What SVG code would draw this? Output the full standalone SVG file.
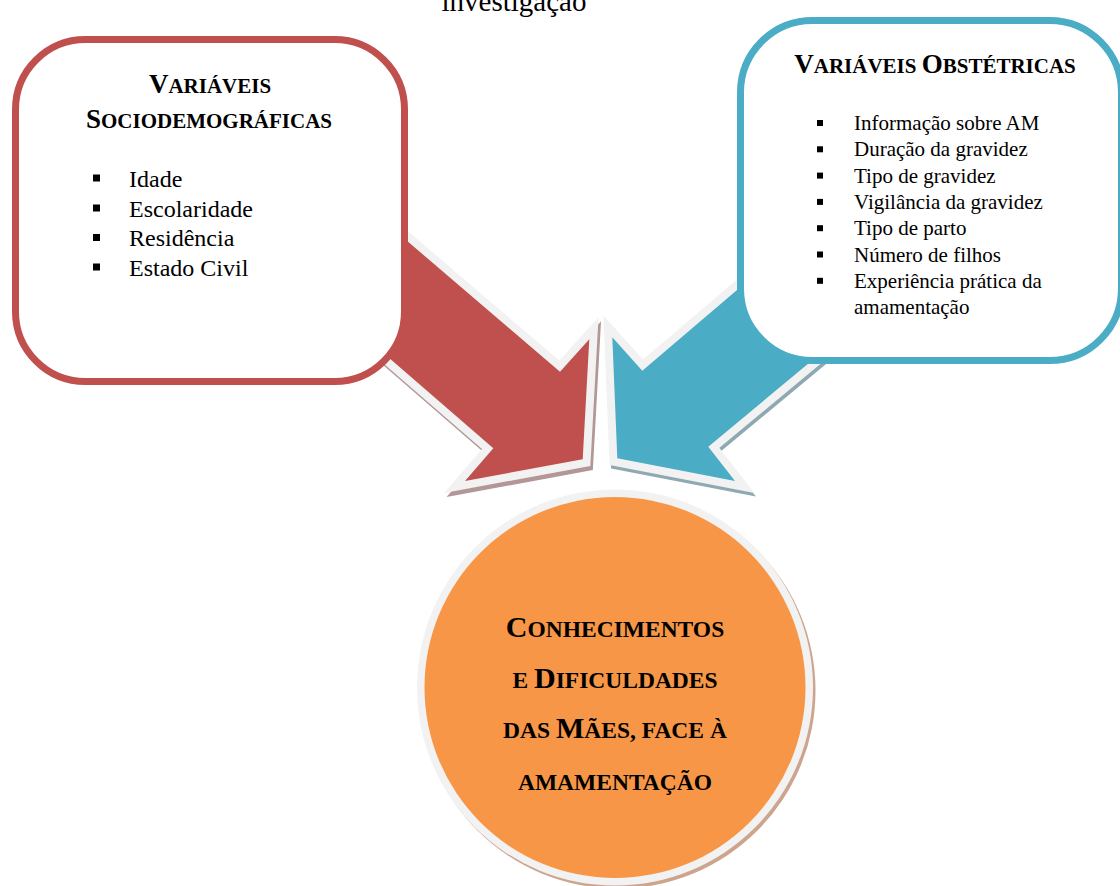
<svg xmlns="http://www.w3.org/2000/svg" width="1120" height="886" viewBox="0 0 1120 886">
<style>
text{font-family:"Liberation Serif","Times New Roman",serif;fill:#000}
.t{font-weight:bold;text-anchor:middle}
.li{font-size:24px}
.ri{font-size:21px}
.arrow{stroke:#F2F2F2;stroke-width:16;stroke-linejoin:miter;paint-order:stroke}
</style>
<rect width="1120" height="886" fill="#FFFFFF"/>
<text x="514" y="11" font-size="29" text-anchor="middle">investigação</text>

<g id="connectors">
  <g id="arrow-left">
    <polygon transform="translate(2.5,4)" points="330,175 560,371.7 589.3,339.3 582.7,459.3 465,481 493.3,448.3 330,306.7" fill="#B39696" stroke="#B39696" stroke-width="16" stroke-linejoin="miter"/>
    <polygon class="arrow" points="330,175 560,371.7 589.3,339.3 582.7,459.3 465,481 493.3,448.3 330,306.7" fill="#C0504D"/>
  </g>
  <g id="arrow-right">
    <polygon transform="translate(1.5,3.5)" points="850,193.7 642.3,370.7 612.3,337.3 617.3,458.3 735,481 708.3,446.7 850,329" fill="#8FA9B3" stroke="#8FA9B3" stroke-width="16" stroke-linejoin="miter"/>
    <polygon class="arrow" points="850,193.7 642.3,370.7 612.3,337.3 617.3,458.3 735,481 708.3,446.7 850,329" fill="#4BACC6"/>
  </g>
</g>

<g id="node-sociodemograficas">
  <rect x="15.5" y="39.5" width="389" height="342" rx="70" ry="70" fill="#FFFFFF" stroke="#C0504D" stroke-width="7"/>
  <text class="t" x="210" y="93"><tspan font-size="27">V</tspan><tspan font-size="21">ARIÁVEIS</tspan></text>
  <text class="t" x="209" y="128"><tspan font-size="27">S</tspan><tspan font-size="21">OCIODEMOGRÁFICAS</tspan></text>
  <rect x="93" y="174.5" width="7" height="7"/>
  <rect x="93" y="204.5" width="7" height="7"/>
  <rect x="93" y="234" width="7" height="7"/>
  <rect x="93" y="263.5" width="7" height="7"/>
  <text class="li" x="129" y="187">Idade</text>
  <text class="li" x="129" y="216.7">Escolaridade</text>
  <text class="li" x="129" y="246.3">Residência</text>
  <text class="li" x="129" y="276">Estado Civil</text>
</g>

<g id="node-obstetricas">
  <rect x="740.5" y="20.5" width="381" height="340" rx="72" ry="72" fill="#FFFFFF" stroke="#4BACC6" stroke-width="7"/>
  <text class="t" x="935" y="73"><tspan font-size="27">V</tspan><tspan font-size="21">ARIÁVEIS </tspan><tspan font-size="27">O</tspan><tspan font-size="21">BSTÉTRICAS</tspan></text>
  <g>
    <rect x="817" y="120" width="6" height="6"/>
    <rect x="817" y="146.3" width="6" height="6"/>
    <rect x="817" y="172.6" width="6" height="6"/>
    <rect x="817" y="198.9" width="6" height="6"/>
    <rect x="817" y="225.2" width="6" height="6"/>
    <rect x="817" y="251.5" width="6" height="6"/>
    <rect x="817" y="277.8" width="6" height="6"/>
  </g>
  <text class="ri" x="854" y="130">Informação sobre AM</text>
  <text class="ri" x="854" y="156.3">Duração da gravidez</text>
  <text class="ri" x="854" y="182.6">Tipo de gravidez</text>
  <text class="ri" x="854" y="208.9">Vigilância da gravidez</text>
  <text class="ri" x="854" y="235.2">Tipo de parto</text>
  <text class="ri" x="854" y="261.5">Número de filhos</text>
  <text class="ri" x="854" y="287.8">Experiência prática da</text>
  <text class="ri" x="854" y="314">amamentação</text>
</g>

<g id="node-conhecimentos">
  <circle cx="617.5" cy="690.5" r="198" fill="#CDA48E"/>
  <circle cx="615" cy="687.5" r="198" fill="#F2F2F2"/>
  <circle cx="615" cy="687.5" r="190.5" fill="#F79646"/>
  <text class="t" x="615" y="637"><tspan font-size="30">C</tspan><tspan font-size="23.5">ONHECIMENTOS</tspan></text>
  <text class="t" x="615" y="688"><tspan font-size="23.5">E </tspan><tspan font-size="30">D</tspan><tspan font-size="23.5">IFICULDADES</tspan></text>
  <text class="t" x="615" y="738"><tspan font-size="23.5">DAS </tspan><tspan font-size="30">M</tspan><tspan font-size="23.5">ÃES, FACE À</tspan></text>
  <text class="t" x="615" y="790"><tspan font-size="23.5">AMAMENTAÇÃO</tspan></text>
</g>
</svg>
